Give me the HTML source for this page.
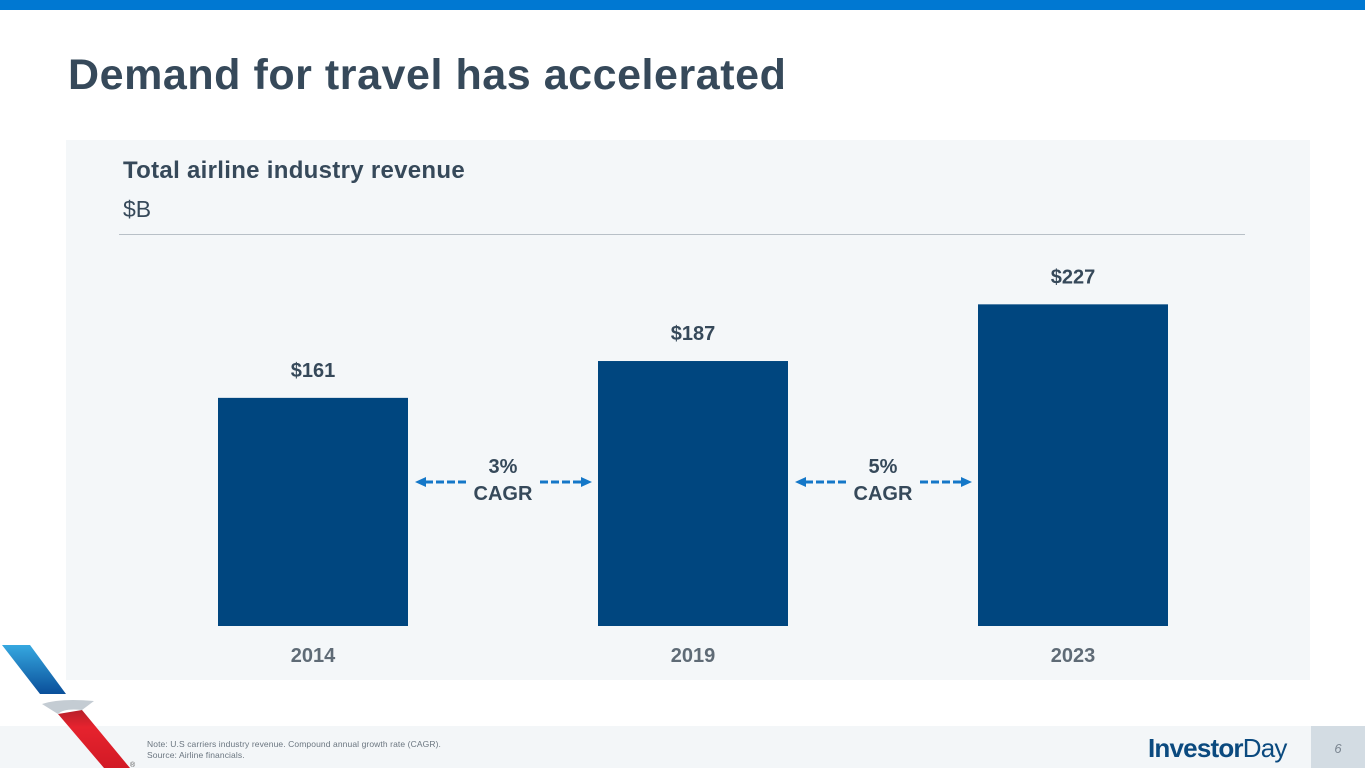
<!DOCTYPE html>
<html><head><meta charset="utf-8">
<style>
body{margin:0;width:1365px;height:768px;overflow:hidden;background:#fff;font-family:"Liberation Sans",sans-serif;position:relative}
.abs{position:absolute}
</style></head><body>
<div class="abs" style="left:0;top:0;width:1365px;height:10px;background:#0078d2"></div>
<div class="abs" style="left:68px;top:51px;font-size:43px;font-weight:bold;color:#36495a;letter-spacing:0.55px">Demand for travel has accelerated</div>
<div class="abs" style="left:66px;top:140px;width:1244px;height:540px;background:#f4f7f9"></div>
<div class="abs" style="left:123px;top:157px;font-size:24px;font-weight:bold;color:#36495a;letter-spacing:0.3px">Total airline industry revenue</div>
<div class="abs" style="left:123px;top:196px;font-size:23px;color:#36495a">$B</div>
<div class="abs" style="left:119px;top:234px;width:1126px;height:1px;background:#b8c0c7"></div>
<svg class="abs" style="left:0;top:0" width="1365" height="768" id="chart"></svg>
<div class="abs" style="left:0;top:726px;width:1311px;height:42px;background:#f3f6f8"></div>
<div class="abs" style="left:1311px;top:726px;width:54px;height:42px;background:#d3dce3;color:#7a8590;font-size:13px;font-style:italic;text-align:center;line-height:46px">6</div>
<div class="abs" style="left:147px;top:739px;font-size:8.5px;color:#6b7680;line-height:11px;letter-spacing:0.1px">Note: U.S carriers industry revenue. Compound annual growth rate (CAGR).<br>Source: Airline financials.</div>
<div class="abs" style="left:1148px;top:733px;font-size:26px;color:#0b4a7f;letter-spacing:-0.8px"><b>Investor</b>Day</div>
<svg class="abs" style="left:0;top:640px" width="140" height="128">
<defs><linearGradient id="gb" x1="0" y1="0" x2="0" y2="1"><stop offset="0" stop-color="#36a8e0"/><stop offset="1" stop-color="#0a4f9a"/></linearGradient>
<linearGradient id="gr" x1="0" y1="0" x2="0" y2="1"><stop offset="0" stop-color="#b8202a"/><stop offset="0.3" stop-color="#e6232e"/><stop offset="1" stop-color="#d21a25"/></linearGradient></defs>
<polygon points="2,5 30,5 66,54 40,54" fill="url(#gb)"/>
<path d="M42,64 Q60,58 94,61 L82,70 Q64,68 58,74 Z" fill="#c4ccd3"/>
<polygon points="58,74 82,70 130,128 104,128" fill="url(#gr)"/>
<text x="130" y="127" font-size="7" fill="#555">®</text>
</svg>
<script>
const categories=["2014","2019","2023"];
const values=[161,187,227];
const valueLabels=["$161","$187","$227"];
const cagrLabels=["3%","5%"];
const svg=document.getElementById('chart');
const NS="http://www.w3.org/2000/svg";
const base=626, scale=1.417, barW=190, x0=218, step=380;
function xPos(i){return x0+i*step;}
function yPos(v){return base-v*scale;}
function mk(t,a){const e=document.createElementNS(NS,t);for(const k in a)e.setAttribute(k,a[k]);svg.appendChild(e);return e;}
categories.forEach((c,i)=>{
 const r=mk('rect',{x:xPos(i),y:yPos(values[i]),width:barW,height:base-yPos(values[i]),fill:'#00467f'});
 
 
 const t=mk('text',{x:xPos(i)+barW/2,y:yPos(values[i])-21,'text-anchor':'middle','font-size':20,'font-weight':'bold',fill:'#36495a'});
 t.textContent=valueLabels[i];
 
 
 const l=mk('text',{x:xPos(i)+barW/2,y:662,'text-anchor':'middle','font-size':20,'font-weight':'bold',fill:'#5f6b76'});
 l.textContent=c;
 
 
});
cagrLabels.forEach((c,i)=>{
 const cx=xPos(i)+barW+(step-barW)/2, y=482;
 const g=document.createElementNS(NS,'g');svg.appendChild(g);
 
 
 const add=(t,a)=>{const e=document.createElementNS(NS,t);for(const k in a)e.setAttribute(k,a[k]);g.appendChild(e);return e;};
 const L=xPos(i)+barW+7, R=xPos(i+1)-6;
 add('line',{x1:L+10,y1:y,x2:cx-37,y2:y,stroke:'#1477c8','stroke-width':3,'stroke-dasharray':'8,3'});
 add('polygon',{points:`${L},${y} ${L+11},${y-5} ${L+11},${y+5}`,fill:'#1477c8'});
 add('line',{x1:cx+37,y1:y,x2:R-10,y2:y,stroke:'#1477c8','stroke-width':3,'stroke-dasharray':'8,3'});
 add('polygon',{points:`${R},${y} ${R-11},${y-5} ${R-11},${y+5}`,fill:'#1477c8'});
 const t1=add('text',{x:cx,y:473,'text-anchor':'middle','font-size':20,'font-weight':'bold',fill:'#36495a'});t1.textContent=c;
 const t2=add('text',{x:cx,y:500,'text-anchor':'middle','font-size':20,'font-weight':'bold',fill:'#36495a'});t2.textContent='CAGR';
});
</script>
</body></html>
